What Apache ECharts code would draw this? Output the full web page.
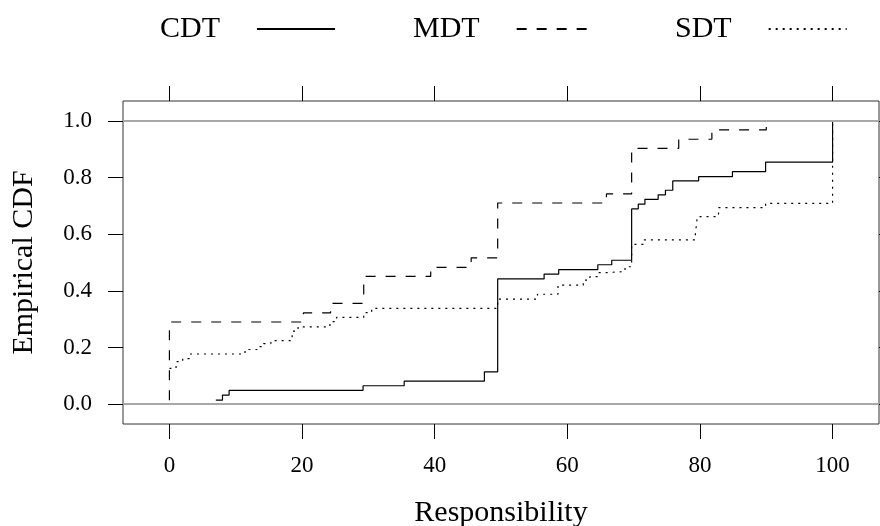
<!DOCTYPE html>
<html>
<head>
<meta charset="utf-8">
<script src="https://cdn.jsdelivr.net/npm/echarts@6/dist/echarts.min.js"></script>
<style>
html,body{margin:0;padding:0;background:#fff;}
#chart{width:880px;height:526px;}
</style>
</head>
<body>
<div id="chart"></div>
<script>
// ---- data (ECDF step points) ----
const seriesNames = ['CDT', 'MDT', 'SDT'];

const cdtX = [7, 8, 9, 29.2, 35.4, 47.5, 49.5, 56.5, 58.7, 64.6, 66.7, 69.7, 70.7, 71.7, 73.7, 74.8, 75.9, 79.8, 84.9, 89.9, 100];
const cdtY = [0.014, 0.032, 0.049, 0.065, 0.081, 0.114, 0.442, 0.459, 0.475, 0.492, 0.508, 0.689, 0.706, 0.723, 0.739, 0.755, 0.788, 0.803, 0.821, 0.854, 1.0];

const mdtX = [0, 0, 20.2, 24.3, 29.3, 39.4, 45.5, 49.5, 65.9, 69.7, 76.8, 81.8, 90];
const mdtY = [0.014, 0.290, 0.322, 0.356, 0.451, 0.483, 0.516, 0.710, 0.742, 0.903, 0.935, 0.968, 1.0];

const sdtX = [0, 1, 2, 3, 11.4, 13.2, 14.2, 15.3, 18.5, 19.4, 24.2, 25.2, 29.3, 30.5, 49.5, 55.5, 58.6, 62.4, 63.4, 64.7, 65.7, 68.7, 69.7, 71.5, 79.3, 79.6, 82.8, 89.9, 100];
const sdtY = [0.126, 0.150, 0.161, 0.177, 0.193, 0.203, 0.214, 0.224, 0.258, 0.273, 0.291, 0.306, 0.323, 0.338, 0.371, 0.388, 0.420, 0.438, 0.450, 0.464, 0.468, 0.485, 0.564, 0.580, 0.597, 0.662, 0.694, 0.709, 1.0];

const xTicks = [0, 20, 40, 60, 80, 100];
const yTicks = [0, 0.2, 0.4, 0.6, 0.8, 1.0];
const refLines = [0, 1];

const xTitle = 'Responsibility';
const yTitle = 'Empirical CDF';

// ---- chart ----
const FONT = 'Liberation Serif';
const zip = (xs, ys) => xs.map((x, i) => [x, ys[i]]);

const chart = echarts.init(document.getElementById('chart'), null, {renderer: 'canvas'});

const tickStyle = {show: true, length: 15, inside: false, lineStyle: {color: '#000', width: 1}};
const noLine = {show: false, onZero: false};
const baseX = {type: 'value', min: -7, max: 107, splitLine: {show: false}, axisLine: noLine};
const baseY = {type: 'value', min: -0.07, max: 1.07, splitLine: {show: false}, axisLine: noLine};

function legendFor(name, left) {
  return {
    data: [name], left: left, top: 14, padding: 0, align: 'right',
    itemWidth: 78, itemHeight: 14, selectedMode: false,
    itemStyle: {opacity: 0},
    textStyle: {fontSize: 30, fontFamily: FONT, color: '#000', padding: [0, 32, 0, 0]}
  };
}

const lineStyles = [
  {color: '#000', width: 1.2, type: 'solid'},
  {color: '#000', width: 1.2, type: [10, 10]},
  {color: '#000', width: 1.2, type: [2, 5]}
];
const datasets = [zip(cdtX, cdtY), zip(mdtX, mdtY), zip(sdtX, sdtY)];

const series = seriesNames.map((n, i) => ({
  name: n, type: 'line', step: 'end', data: datasets[i],
  symbol: 'none', showSymbol: false, animation: false,
  lineStyle: lineStyles[i], itemStyle: {color: '#000'},
  z: 3
}));
series.push({
  name: 'ref', type: 'line', data: [], silent: true, z: 1,
  markLine: {
    silent: true, symbol: 'none', animation: false,
    label: {show: false},
    lineStyle: {color: '#a8a8a8', width: 2, type: 'solid'},
    data: refLines.map(v => ({yAxis: v}))
  }
});

chart.setOption({
  animation: false,
  backgroundColor: '#fff',
  grid: {left: 123, right: 1, top: 101, bottom: 102, containLabel: false, outerBoundsMode: 'none',
         show: true, borderColor: '#333', borderWidth: 1, backgroundColor: 'transparent'},
  legend: [legendFor('CDT', 160), legendFor('MDT', 413), legendFor('SDT', 675)],
  xAxis: [
    Object.assign({}, baseX, {
      position: 'bottom',
      name: xTitle, nameLocation: 'middle', nameGap: 74,
      nameTextStyle: {fontSize: 30, fontFamily: FONT, color: '#000'},
      axisTick: Object.assign({}, tickStyle, {customValues: xTicks}),
      axisLabel: {customValues: xTicks, fontSize: 23, fontFamily: FONT, color: '#000', margin: 30}
    }),
    Object.assign({}, baseX, {
      position: 'top',
      axisTick: Object.assign({}, tickStyle, {customValues: xTicks}),
      axisLabel: {show: false}
    })
  ],
  yAxis: [
    Object.assign({}, baseY, {
      position: 'left',
      name: yTitle, nameLocation: 'middle', nameGap: 84, nameRotate: 90,
      nameTextStyle: {fontSize: 30, fontFamily: FONT, color: '#000'},
      axisTick: Object.assign({}, tickStyle, {customValues: yTicks}),
      axisLabel: {customValues: yTicks, fontSize: 23, fontFamily: FONT, color: '#000', margin: 31,
                  formatter: v => v.toFixed(1)}
    }),
    Object.assign({}, baseY, {
      position: 'right',
      axisTick: Object.assign({}, tickStyle, {customValues: yTicks}),
      axisLabel: {show: false}
    })
  ],
  series: series
});
</script>
</body>
</html>
